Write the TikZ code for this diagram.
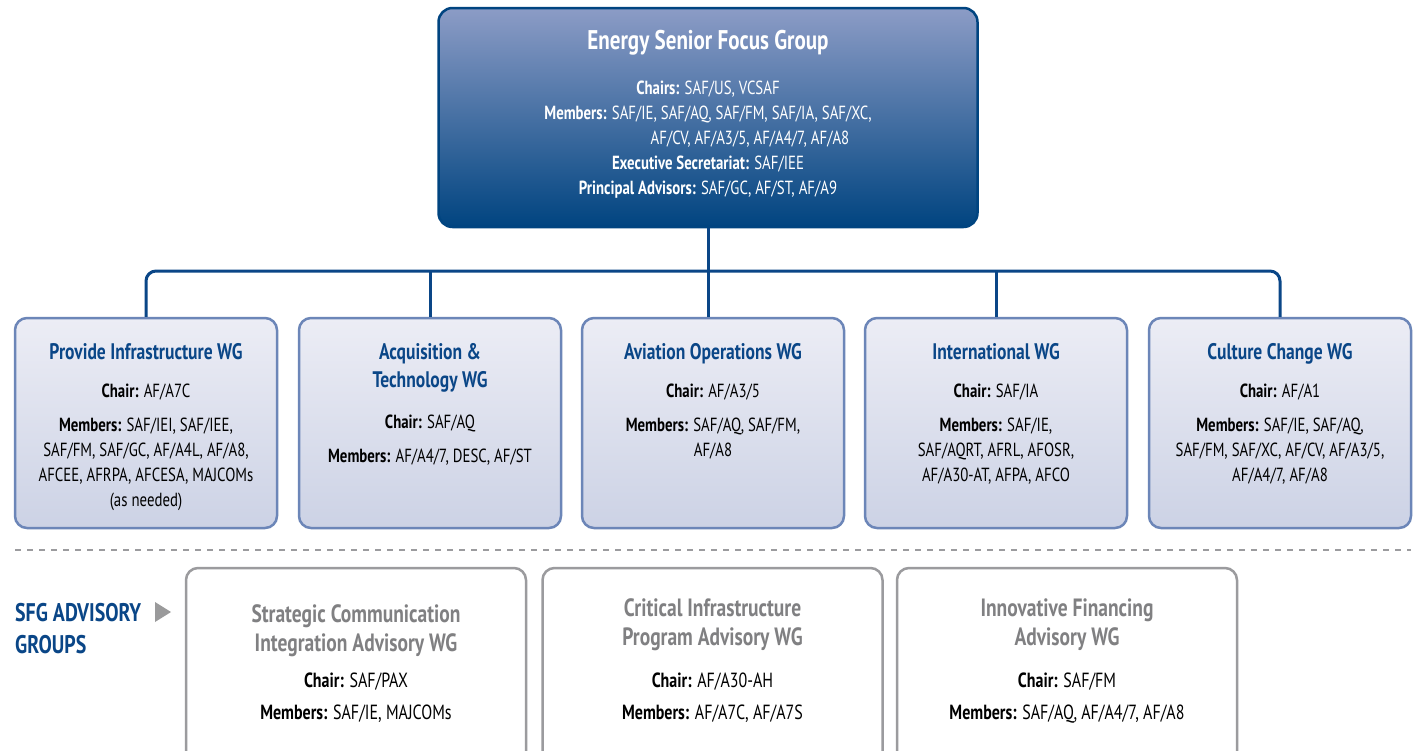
\documentclass[tikz,border=0pt]{standalone}
\usepackage{fontspec}
\setmainfont{PT Sans}[FakeStretch=0.78]
\usetikzlibrary{positioning}
\definecolor{sfgnavy}{RGB}{10,70,135}
\definecolor{esfgtop}{RGB}{140,156,198}
\definecolor{esfgbottom}{RGB}{0,68,128}
\definecolor{wgedge}{RGB}{108,134,184}
\definecolor{wgtop}{RGB}{236,237,245}
\definecolor{wgbottom}{RGB}{204,210,229}
\definecolor{advedge}{RGB}{155,155,158}
\definecolor{advtitle}{RGB}{128,128,130}
\definecolor{advmid}{RGB}{232,233,238}
\begin{document}
\begin{tikzpicture}[x=1pt,y=-1pt,
    esfgbox/.style={draw=esfgbottom, line width=2.5pt, rounded corners=14pt, top color=esfgtop, bottom color=esfgbottom, minimum width=539pt, minimum height=219pt, inner sep=0pt},
    wgbox/.style={draw=wgedge, line width=2.5pt, rounded corners=12pt, top color=wgtop, bottom color=wgbottom, minimum width=262pt, minimum height=210pt, inner sep=0pt},
    advbox/.style={draw=advedge, line width=2.5pt, rounded corners=12pt, top color=white, middle color=advmid, bottom color=white, minimum width=340pt, minimum height=204pt, inner sep=0pt},
    boxtext/.style={align=center, inner sep=0pt, font=\fontsize{19}{25}\selectfont},
    advtext/.style={boxtext, font=\fontsize{20.5}{25}\selectfont},
    conn/.style={draw=sfgnavy, line width=3pt}]
    \clip (0,0) rectangle (1416,750);
    \fill[white] (0,0) rectangle (1416,750);

    \node[esfgbox] (esfg) at (708,117.5) {};
    \node[boxtext, text=white, below=23pt of esfg.north] (esfg-t) {%
        {\fontsize{27}{25}\selectfont\bfseries Energy Senior Focus Group}\\[20pt]
        \textbf{Chairs:} SAF/US, VCSAF\\
        \textbf{Members:} SAF/IE, SAF/AQ, SAF/FM, SAF/IA, SAF/XC,\\
        \hspace*{84pt}AF/CV, AF/A3/5, AF/A4/7, AF/A8\\
        \textbf{Executive Secretariat:} SAF/IEE\\
        \textbf{Principal Advisors:} SAF/GC, AF/ST, AF/A9};

    \node[wgbox] (pi) at (146,423) {};
    \node[wgbox] (at) at (430,423) {};
    \node[wgbox] (aw) at (713,423) {};
    \node[wgbox] (intl) at (996,423) {};
    \node[wgbox] (cc) at (1280,423) {};

    \node[boxtext, below=26pt of pi.north] (pi-t) {%
        {\fontsize{22.5}{25}\selectfont\bfseries\color{sfgnavy}Provide Infrastructure WG}\\[13pt]
        \textbf{Chair:} AF/A7C\\[9pt]
        \textbf{Members:} SAF/IEI, SAF/IEE,\\
        SAF/FM, SAF/GC, AF/A4L, AF/A8,\\
        AFCEE, AFRPA, AFCESA, MAJCOMs\\
        (as needed)};
    \node[boxtext, below=26pt of at.north] (at-t) {%
        {\fontsize{22.5}{25}\selectfont\bfseries\color{sfgnavy}Acquisition \&}\\[3pt]
        {\fontsize{22.5}{25}\selectfont\bfseries\color{sfgnavy}Technology WG}\\[16pt]
        \textbf{Chair:} SAF/AQ\\[9pt]
        \textbf{Members:} AF/A4/7, DESC, AF/ST};
    \node[boxtext, below=26pt of aw.north] (aw-t) {%
        {\fontsize{22.5}{25}\selectfont\bfseries\color{sfgnavy}Aviation Operations WG}\\[13pt]
        \textbf{Chair:} AF/A3/5\\[9pt]
        \textbf{Members:} SAF/AQ, SAF/FM,\\
        AF/A8};
    \node[boxtext, below=26pt of intl.north] (intl-t) {%
        {\fontsize{22.5}{25}\selectfont\bfseries\color{sfgnavy}International WG}\\[13pt]
        \textbf{Chair:} SAF/IA\\[9pt]
        \textbf{Members:} SAF/IE,\\
        SAF/AQRT, AFRL, AFOSR,\\
        AF/A30-AT, AFPA, AFCO};
    \node[boxtext, below=26pt of cc.north] (cc-t) {%
        {\fontsize{22.5}{25}\selectfont\bfseries\color{sfgnavy}Culture Change WG}\\[13pt]
        \textbf{Chair:} AF/A1\\[9pt]
        \textbf{Members:} SAF/IE, SAF/AQ,\\
        SAF/FM, SAF/XC, AF/CV, AF/A3/5,\\
        AF/A4/7, AF/A8};

    \coordinate (bus) at (0,271);
    \draw[conn] (esfg.south) -- (esfg.south |- aw.north);
    \draw[conn, rounded corners=10pt] (pi.north) -- (pi.north |- bus) -- (cc.north |- bus) -- (cc.north);
    \draw[conn] (at.north) -- (at.north |- bus);
    \draw[conn] (intl.north) -- (intl.north |- bus);

    \coordinate (dash-l) at (15,550);
    \coordinate (dash-r) at (1411,550);
    \draw[advedge, line width=1.2pt, dash pattern=on 6pt off 6pt] (dash-l) -- (dash-r);

    \node[anchor=north west, align=left, inner sep=0pt, text=sfgnavy, font=\fontsize{25.5}{32}\selectfont\bfseries] (adv-l) at (15,603) {SFG ADVISORY\\GROUPS};
    \fill[advtitle!80] (155,602) -- (171,612) -- (155,622) -- cycle;

    \node[advbox] (sci) at (356,670) {};
    \node[advbox] (cip) at (712.5,670) {};
    \node[advbox] (inf) at (1067,670) {};

    \node[advtext, below=38pt of sci.north] (sci-t) {%
        {\fontsize{25}{25}\selectfont\bfseries\color{advtitle}Strategic Communication}\\[4pt]
        {\fontsize{25}{25}\selectfont\bfseries\color{advtitle}Integration Advisory WG}\\[11pt]
        \textbf{Chair:} SAF/PAX\\[7pt]
        \textbf{Members:} SAF/IE, MAJCOMs};
    \node[advtext, below=32pt of cip.north] (cip-t) {%
        {\fontsize{25}{25}\selectfont\bfseries\color{advtitle}Critical Infrastructure}\\[4pt]
        {\fontsize{25}{25}\selectfont\bfseries\color{advtitle}Program Advisory WG}\\[17pt]
        \textbf{Chair:} AF/A30-AH\\[7pt]
        \textbf{Members:} AF/A7C, AF/A7S};
    \node[advtext, below=32pt of inf.north] (inf-t) {%
        {\fontsize{25}{25}\selectfont\bfseries\color{advtitle}Innovative Financing}\\[4pt]
        {\fontsize{25}{25}\selectfont\bfseries\color{advtitle}Advisory WG}\\[17pt]
        \textbf{Chair:} SAF/FM\\[7pt]
        \textbf{Members:} SAF/AQ, AF/A4/7, AF/A8};
\end{tikzpicture}
\end{document}
